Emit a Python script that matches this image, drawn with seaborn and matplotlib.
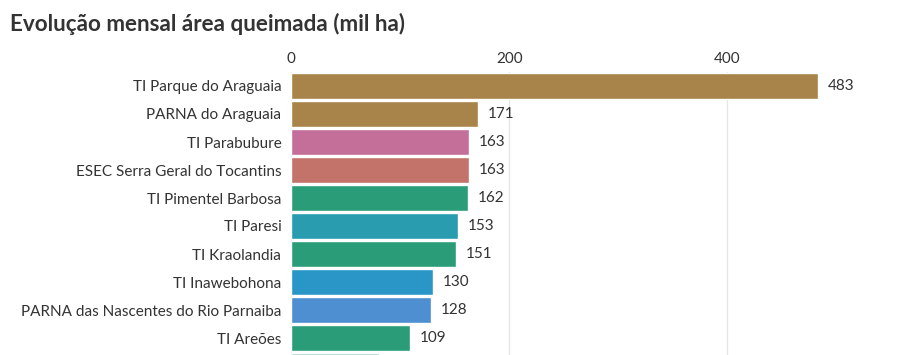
import matplotlib
matplotlib.use("Agg")
import matplotlib.pyplot as plt
import seaborn as sns
import pandas as pd

names = ["TI Parque do Araguaia", "PARNA do Araguaia", "TI Parabubure",
         "ESEC Serra Geral do Tocantins", "TI Pimentel Barbosa", "TI Paresi",
         "TI Kraolandia", "TI Inawebohona", "PARNA das Nascentes do Rio Parnaiba",
         "TI Areões", "Outra área"]
values = [483, 171, 163, 163, 162, 153, 151, 130, 128, 109, 81]
colors = ["#A8844A", "#A8844A", "#C46E9A", "#C4736A", "#2A9D78", "#2A9CB0",
          "#2A9D78", "#2A96C8", "#4D8FD0", "#2A9D78", "#A5D9C9"]
ticks = [0, 200, 400]
n_visible = 10  # the last bar is cut by the bottom edge of the figure

sns.set_theme(style="white")
plt.rcParams['font.family'] = ['Lato', 'DejaVu Sans']

W, H = 897, 355
fig = plt.figure(figsize=(W/100, H/100), dpi=100)
left_px, right_px = 291, 897
top_px = 72
row = 28
bottom_px = top_px + row * len(names)
ax = fig.add_axes([left_px/W, 1 - bottom_px/H, (right_px-left_px)/W, (bottom_px-top_px)/H])

df = pd.DataFrame({"name": names, "value": values})
sns.barplot(data=df, x="value", y="name", hue="name", palette=colors,
            legend=False, ax=ax, width=0.92, saturation=1, zorder=2)

ax.set_xlim(0, (right_px-left_px)/1.091)
ax.set_xticks(ticks)
ax.xaxis.tick_top()
ax.tick_params(axis="x", length=0, pad=4, labelsize=11, labelcolor="#333333")
ax.tick_params(axis="y", length=0, pad=7, labelsize=11, labelcolor="#333333")
ax.set_yticks(range(len(names)))
ax.set_yticklabels([nm if i < n_visible else "" for i, nm in enumerate(names)])
ax.set_xlabel("")
ax.set_ylabel("")
ax.grid(axis="x", color="#e6e6e6", linewidth=1, zorder=0)
ax.set_axisbelow(True)
for s in ax.spines.values():
    s.set_visible(False)

for i, v in enumerate(values[:n_visible]):
    ax.text(v + 9, i, f"{v}", va="center", ha="left", fontsize=11, color="#333333")

fig.text(10/W, 1 - 24/H, "Evolução mensal área queimada (mil ha)", fontsize=16.2,
         fontweight="bold", color="#333333", va="center", ha="left")

fig.savefig("out.png", dpi=100)
